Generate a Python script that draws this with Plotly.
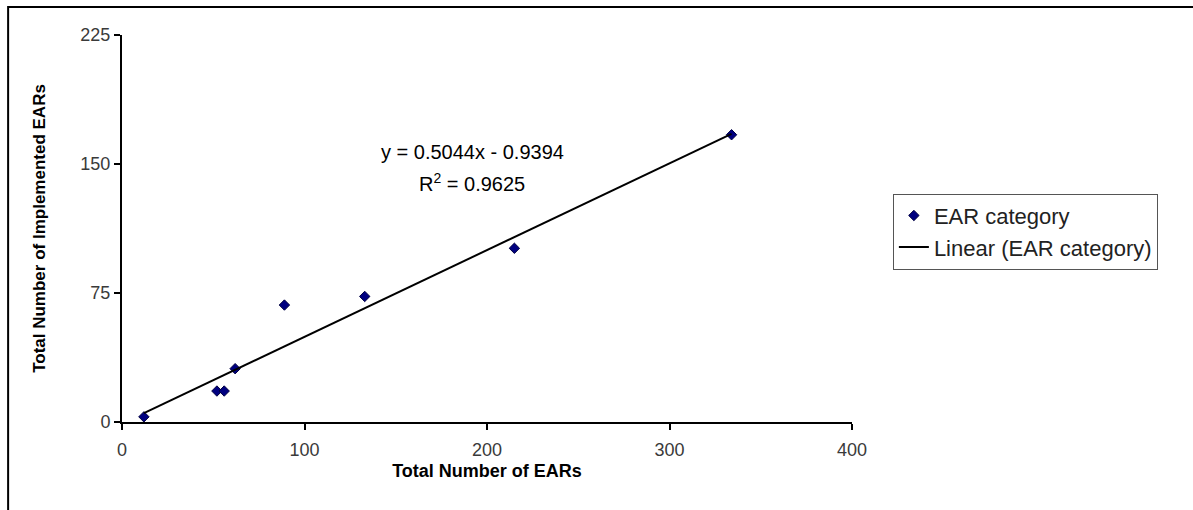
import plotly.graph_objects as go

# EAR categories: total EARs vs implemented EARs
total_ears = [12, 52, 56, 62, 89, 133, 215, 334]
implemented_ears = [3, 18, 18, 31, 68, 73, 101, 167]

# Linear trendline as reported
slope = 0.5044
intercept = -0.9394
r_squared = 0.9625

x_ticks = [0, 100, 200, 300, 400]
y_ticks = [0, 75, 150, 225]

trend_x = [min(total_ears), max(total_ears)]
trend_y = [slope * v + intercept for v in trend_x]

tick_font = dict(family="Liberation Sans Narrow, Arial Narrow, Liberation Sans, sans-serif",
                 size=18, color="#3a3a3a")
x_title_font = dict(family="Liberation Sans, Arial, sans-serif", size=18, color="#000000")
y_title_font = dict(family="Liberation Sans, Arial, sans-serif", size=17, color="#000000")
eq_font = dict(family="Liberation Sans, Arial, sans-serif", size=20, color="#000000")

fig = go.Figure()
fig.add_trace(go.Scatter(
    x=total_ears, y=implemented_ears, mode="markers", name="EAR category",
    marker=dict(symbol="diamond", size=8, color="#000080",
                line=dict(color="#000040", width=1)),
))
fig.add_trace(go.Scatter(
    x=trend_x, y=trend_y, mode="lines", name="Linear (EAR category)",
    line=dict(color="#000000", width=2),
))

fig.add_annotation(
    x=192, y=157, xref="x", yref="y",
    text=f"y = {slope:.4f}x - {abs(intercept):.4f}",
    showarrow=False, xanchor="center", yanchor="middle", font=eq_font,
)
fig.add_annotation(
    x=192, y=139.5, xref="x", yref="y",
    text=f"R<sup>2</sup> = {r_squared:.4f}",
    showarrow=False, xanchor="center", yanchor="middle", font=eq_font,
)

# outer frame around the chart
fig.add_shape(type="rect", xref="paper", yref="paper",
              x0=-0.156, x1=1.5, y0=-0.4, y1=1.0724,
              line=dict(color="#000000", width=2), layer="below")

fig.update_layout(
    width=1193, height=510,
    margin=dict(l=122, r=341, t=35, b=88),
    paper_bgcolor="white", plot_bgcolor="white",
    showlegend=True,
    legend=dict(
        x=1.056, y=0.59, xanchor="left", yanchor="top",
        bordercolor="#555555", borderwidth=1, bgcolor="white",
        font=dict(family="Liberation Sans, Arial, sans-serif", size=22, color="#222222"),
        itemwidth=30, tracegroupgap=0,
    ),
    xaxis=dict(
        range=[0, 400], tickvals=x_ticks, ticktext=[str(v) for v in x_ticks],
        showgrid=False, zeroline=False, showline=True, linecolor="#000000", linewidth=2,
        ticks="outside", ticklen=6, tickcolor="#000000", tickwidth=1.5,
        tickfont=tick_font, ticklabelstandoff=4,
        title=dict(text="<b>Total Number of EARs</b>", font=x_title_font, standoff=6),
    ),
    yaxis=dict(
        range=[0, 225], tickvals=y_ticks, ticktext=[str(v) for v in y_ticks],
        showgrid=False, zeroline=False, showline=True, linecolor="#000000", linewidth=2,
        ticks="outside", ticklen=6, tickcolor="#000000", tickwidth=1.5,
        tickfont=tick_font,
        title=dict(text="<b>Total Number of Implemented EARs</b>", font=y_title_font, standoff=30),
    ),
)

fig.write_html("out.html")
